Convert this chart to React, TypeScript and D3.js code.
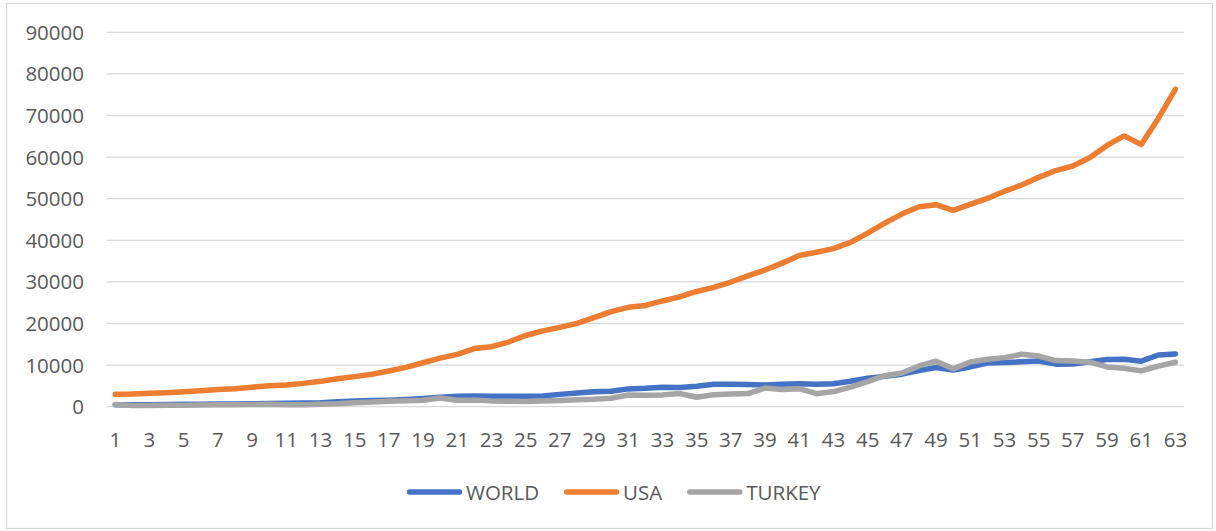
import React, { useEffect, useRef } from "react";
import * as d3 from "d3";

const categories: number[] = Array.from({ length: 63 }, (_, i) => i + 1);

const world: number[] = [
  458, 470, 492, 521, 562, 602, 642, 670, 711, 775, 804, 869, 979, 1182, 1347, 1474,
  1567, 1749, 2001, 2265, 2521, 2565, 2497, 2484, 2510, 2585, 2962, 3317, 3618, 3724,
  4280, 4408, 4648, 4640, 4933, 5411, 5424, 5336, 5239, 5372, 5496, 5379, 5527, 6137,
  6824, 7287, 7817, 8691, 9406, 8838, 9560, 10484, 10600, 10789, 10968, 10226, 10263,
  10786, 11368, 11394, 10936, 12427, 12688,
];

const usa: number[] = [
  3007, 3067, 3244, 3375, 3574, 3828, 4146, 4336, 4696, 5032, 5234, 5609, 6094, 6726,
  7226, 7801, 8592, 9453, 10565, 11674, 12575, 13976, 14434, 15544, 17121, 18237, 19071,
  20039, 21417, 22857, 23889, 24342, 25419, 26387, 27695, 28691, 29968, 31459, 32854,
  34513, 36330, 37134, 37998, 39490, 41725, 44123, 46302, 48050, 48570, 47195, 48651,
  50066, 51784, 53291, 55124, 56763, 57867, 59915, 62805, 65095, 63028, 69288, 76330,
];

const turkey: number[] = [
  509, 283, 310, 350, 366, 385, 444, 477, 522, 567, 494, 461, 564, 693, 926, 1137, 1296,
  1427, 1545, 2103, 1565, 1580, 1400, 1313, 1250, 1384, 1516, 1699, 1766, 2023, 2794,
  2735, 2842, 3180, 2270, 2897, 3053, 3144, 4496, 4129, 4337, 3119, 3640, 4718, 6041,
  7457, 8101, 9792, 10941, 9104, 10743, 11420, 11796, 12615, 12179, 11085, 10964, 10697,
  9568, 9216, 8638, 9743, 10674,
];

const seriesNames: string[] = ["WORLD", "USA", "TURKEY"];
const seriesColors: string[] = ["#4472C4", "#ED7D31", "#A5A5A5"];
const yTicks: number[] = [0, 10000, 20000, 30000, 40000, 50000, 60000, 70000, 80000, 90000];

const W = 1216;
const H = 531;
const FONT = "'Open Sans', 'Liberation Sans', sans-serif";
const TEXT_COLOR = "#595959";
const GRID_COLOR = "#D9D9D9";

export default function App() {
  const ref = useRef<SVGSVGElement | null>(null);

  useEffect(() => {
    const svg = d3.select(ref.current!);
    svg.selectAll("*").remove();

    const left = 106.7;
    const right = 1184;
    const top = 32.3;
    const bottom = 406.7;

    const x = d3
      .scaleBand<number>()
      .domain(categories)
      .range([left, right])
      .paddingInner(0)
      .paddingOuter(0);
    const cx = (c: number) => (x(c) as number) + x.bandwidth() / 2;
    const y = d3.scaleLinear().domain([0, 90000]).range([bottom, top]);

    // border
    svg
      .append("rect")
      .attr("x", 6.5)
      .attr("y", 3.5)
      .attr("width", 1206)
      .attr("height", 525)
      .attr("fill", "#fff")
      .attr("stroke", GRID_COLOR)
      .attr("stroke-width", 1.3);

    // gridlines
    svg
      .append("g")
      .selectAll("line")
      .data(yTicks)
      .join("line")
      .attr("x1", left)
      .attr("x2", right)
      .attr("y1", (d) => y(d))
      .attr("y2", (d) => y(d))
      .attr("stroke", GRID_COLOR)
      .attr("stroke-width", 1.3);

    // y labels
    svg
      .append("g")
      .selectAll("text")
      .data(yTicks)
      .join("text")
      .attr("x", 84)
      .attr("y", (d) => y(d) + 7.5)
      .attr("text-anchor", "end")
      .attr("font-family", FONT)
      .attr("font-size", 20.5)
      .attr("fill", TEXT_COLOR)
      .text((d) => String(d));

    // x labels
    svg
      .append("g")
      .selectAll("text")
      .data(categories.filter((c) => c % 2 === 1))
      .join("text")
      .attr("x", (d) => cx(d))
      .attr("y", 446.5)
      .attr("text-anchor", "middle")
      .attr("font-family", FONT)
      .attr("font-size", 20.5)
      .attr("fill", TEXT_COLOR)
      .text((d) => String(d));

    const allSeries = [world, usa, turkey];
    const line = d3
      .line<number>()
      .x((_, i) => cx(categories[i]))
      .y((d) => y(d));

    svg
      .append("g")
      .selectAll("path")
      .data(allSeries)
      .join("path")
      .attr("d", (d) => line(d))
      .attr("fill", "none")
      .attr("stroke", (_, i) => seriesColors[i])
      .attr("stroke-width", 5.5)
      .attr("stroke-linejoin", "round")
      .attr("stroke-linecap", "round");

    // legend
    const legend = svg.append("g");
    let lx = 407;
    const ly = 492;
    seriesNames.forEach((name, i) => {
      legend
        .append("line")
        .attr("x1", lx + 2.5)
        .attr("x2", lx + 52.5)
        .attr("y1", ly)
        .attr("y2", ly)
        .attr("stroke", seriesColors[i])
        .attr("stroke-width", 5.5)
        .attr("stroke-linecap", "round");
      const t = legend
        .append("text")
        .attr("x", lx + 59)
        .attr("y", ly + 7.5)
        .attr("font-family", FONT)
        .attr("font-size", 20.5)
        .attr("fill", TEXT_COLOR)
        .text(name);
      const w = (t.node() as SVGTextElement).getComputedTextLength();
      lx = lx + 59 + w + 25;
    });
  }, []);

  return (
    <svg
      ref={ref}
      width={W}
      height={H}
      style={{ position: "absolute", left: 0, top: 0, display: "block" }}
    />
  );
}
